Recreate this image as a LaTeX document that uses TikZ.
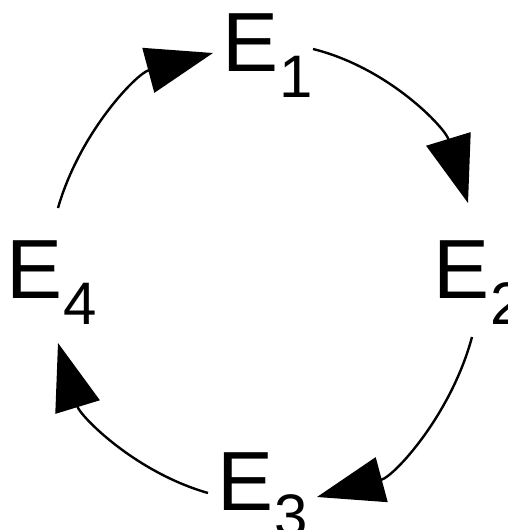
\documentclass[tikz,border=0pt]{standalone}
\usepackage{fontspec}
\setmainfont{Liberation Sans}
\usetikzlibrary{arrows.meta}
\newcommand{\Elab}[1]{E\kern1pt\raisebox{-26pt}{\fontsize{60pt}{60pt}\selectfont #1}}
\begin{document}
\begin{tikzpicture}[x=1pt,y=1pt,
  lab/.style={inner sep=0pt, outer sep=0pt, anchor=base west, font=\fontsize{84pt}{84pt}\selectfont},
  conn/.style={line width=2.4pt, -{Triangle[length=67pt,width=46pt]}}]
\useasboundingbox (0,0) rectangle (507,-530);
\fill[white] (0,0) rectangle (507,-530);
\node[lab] (e1) at (222,-71) {\Elab{1}};
\node[lab] (e2) at (433,-298) {\Elab{2}};
\node[lab] (e3) at (217,-510) {\Elab{3}};
\node[lab] (e4) at (6,-298) {\Elab{4}};
\coordinate (a1s) at (58,-208);  \coordinate (a1e) at (213,-53);
\coordinate (a2s) at (313,-49);  \coordinate (a2e) at (468,-203);
\coordinate (a3s) at (472,-337); \coordinate (a3e) at (317,-497);
\coordinate (a4s) at (208,-493); \coordinate (a4e) at (58,-343);
\draw[conn] (a1s) to[out=74,in=195,looseness=0.92] (a1e);
\draw[conn] (a2s) to[out=-14,in=107,looseness=0.92] (a2e);
\draw[conn] (a3s) to[out=-105,in=15,looseness=0.92] (a3e);
\draw[conn] (a4s) to[out=164,in=-73,looseness=0.92] (a4e);
\end{tikzpicture}
\end{document}
